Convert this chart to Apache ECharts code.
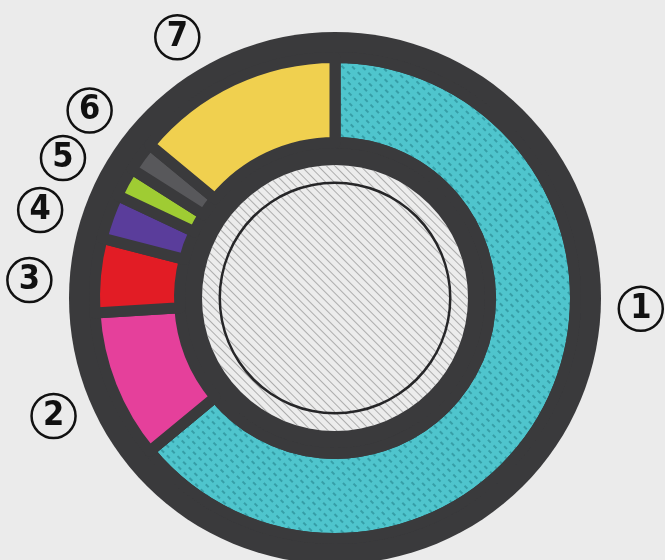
<!DOCTYPE html>
<html>
<head>
<meta charset="utf-8">
<script src="https://cdn.jsdelivr.net/npm/echarts@6/dist/echarts.min.js"></script>
<style>
html,body{margin:0;padding:0;background:#ebebeb;}
#chart{width:665px;height:560px;}
</style>
</head>
<body>
<div id="chart"></div>
<script>
// ---- data ----
var categories = ['1', '2', '3', '4', '5', '6', '7'];
var values = [64, 10, 5, 3, 2, 2, 14];

// ---- styles / layout (not data) ----
var segColors = ['#4fc5cd', '#e5409b', '#e21c25', '#5a3d9b', '#9fcc33', '#58585b', '#f0d04f'];
var labelOffsets = [[28, -120], [4, 5], [0, 11], [-6, 16], [-3, 8], [3, -7], [-27, 17]];
var DARK = '#3a3a3c';
var CX = 335, CY = 298;

var chart = echarts.init(document.getElementById('chart'), null, {renderer: 'canvas'});

var segData = categories.map(function (c, i) {
  var item = {name: c, value: values[i], itemStyle: {color: segColors[i]}};
  if (i === 0) {
    item.itemStyle.decal = {
      symbol: 'rect', symbolSize: 1,
      color: 'rgba(20,105,115,0.42)',
      dashArrayX: [[4, 4]], dashArrayY: [1.5, 5],
      rotation: Math.PI / 4
    };
  }
  return item;
});

var labelData = categories.map(function (c, i) {
  return {
    name: c, value: values[i],
    label: {offset: labelOffsets[i]}
  };
});

var option = {
  backgroundColor: '#ebebeb',
  animation: false,
  series: [
    {
      type: 'pie', silent: true, center: [CX, CY], radius: [0, 266],
      label: {show: false}, labelLine: {show: false},
      itemStyle: {color: DARK},
      data: [{value: 1, name: 'ring'}]
    },
    {
      type: 'pie', silent: true, center: [CX, CY], radius: [155.5, 240.5],
      startAngle: 90, clockwise: true,
      label: {show: false}, labelLine: {show: false},
      itemStyle: {borderColor: DARK, borderWidth: 11},
      emphasis: {disabled: true},
      data: segData
    },
    {
      type: 'pie', silent: true, center: [CX, CY], radius: [0, 133],
      label: {show: false}, labelLine: {show: false},
      itemStyle: {
        color: '#ececec',
        decal: {
          symbol: 'rect', symbolSize: 1,
          color: 'rgba(120,120,120,0.55)',
          dashArrayX: [[1, 0]], dashArrayY: [1, 5],
          rotation: Math.PI / 4
        }
      },
      data: [{value: 1, name: 'core'}]
    },
    {
      type: 'pie', silent: true, center: [CX, CY], radius: [114, 116.5],
      label: {show: false}, labelLine: {show: false},
      itemStyle: {color: '#262628'},
      data: [{value: 1, name: 'line'}]
    },
    {
      type: 'pie', silent: true, center: [CX, CY], radius: [290, 318],
      startAngle: 90, clockwise: true,
      itemStyle: {color: 'rgba(0,0,0,0)'},
      labelLine: {show: false},
      label: {
        show: true, position: 'inside',
        formatter: '{b}',
        color: '#111',
        fontFamily: 'DejaVu Sans Condensed, DejaVu Sans',
        fontWeight: 'bold',
        fontSize: 34,
        width: 44, height: 44, lineHeight: 44,
        align: 'center', verticalAlign: 'middle',
        borderColor: '#111', borderWidth: 2.5, borderRadius: 24,
        padding: 0
      },
      data: labelData
    }
  ]
};
chart.setOption(option);
</script>
</body>
</html>
